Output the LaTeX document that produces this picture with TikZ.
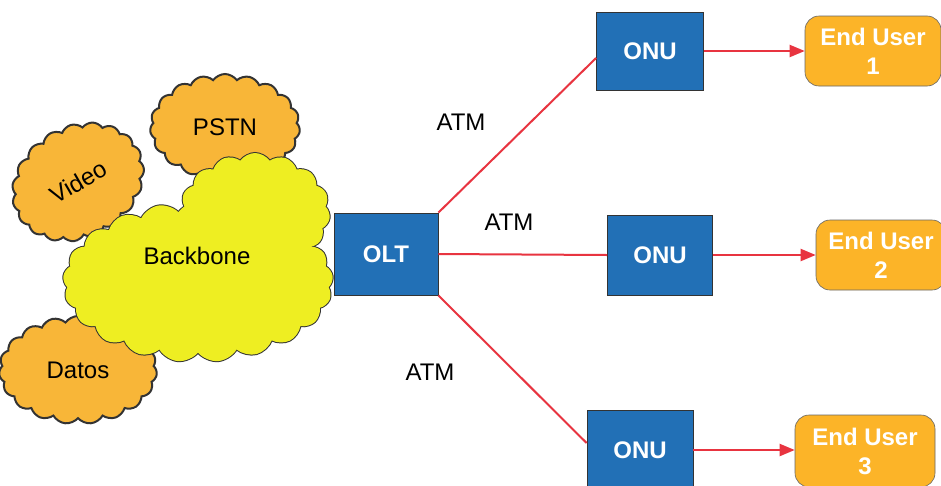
\documentclass[tikz,border=0pt]{standalone}
\usepackage{fontspec}
\setmainfont{Liberation Sans}
\usetikzlibrary{shapes.symbols,arrows.meta}
\definecolor{boxblue}{RGB}{34,112,182}
\definecolor{useror}{RGB}{252,180,40}
\definecolor{cloudor}{RGB}{248,182,56}
\definecolor{bbyellow}{RGB}{238,238,34}
\definecolor{linkred}{RGB}{232,52,64}
\tikzset{
  bigtxt/.style={font=\fontsize{24}{29}\selectfont},
  netbox/.style={draw=black!80,line width=0.8pt,fill=boxblue,text=white,font=\fontsize{24}{29}\selectfont\bfseries,inner sep=0pt},
  userbox/.style={draw=black!60,line width=0.6pt,fill=useror,text=white,rounded corners=14pt,align=center,font=\fontsize{24}{29}\selectfont\bfseries,inner sep=0pt},
  netcloud/.style={cloud,cloud puffs=19,cloud puff arc=110,draw=black!80,line width=2pt,bigtxt,inner sep=0pt},
  link/.style={draw=linkred,line width=2pt},
  arrowlink/.style={link,-{Triangle[length=15pt,width=12pt]}},
  lbl/.style={bigtxt}
}
\begin{document}
\begin{tikzpicture}[x=1pt,y=-1pt]
\fill[white] (0,0) rectangle (941,485);
\useasboundingbox (0,0) rectangle (941,485);
% clouds
\node[netcloud,fill=cloudor,minimum width=138pt,minimum height=112pt,rotate=30] (video) at (78,182) {Video};
\node[netcloud,fill=cloudor,minimum width=150pt,minimum height=106pt] (pstn) at (225,127) {PSTN};
\node[netcloud,fill=cloudor,minimum width=158pt,minimum height=108pt] (datos) at (78,370) {Datos};
% backbone: union of two clouds
\node[netcloud,fill=bbyellow,minimum width=270pt,minimum height=160pt,cloud puffs=21] (bbmain) at (198,282) {};
\node[netcloud,fill=bbyellow,minimum width=150pt,minimum height=118pt,cloud puffs=15] (bbtop) at (255,212) {};
\node[cloud,cloud puffs=21,cloud puff arc=110,fill=bbyellow,minimum width=270pt,minimum height=160pt,inner sep=0pt] (bbmainf) at (198,282) {};
\node[cloud,cloud puffs=15,cloud puff arc=110,fill=bbyellow,minimum width=150pt,minimum height=118pt,inner sep=0pt] (bbtopf) at (255,212) {};
\node[bigtxt] (backbonet) at (197,256) {Backbone};
% boxes
\node[netbox,minimum width=104pt,minimum height=82pt] (olt) at (386,254) {OLT};
\node[netbox,minimum width=107pt,minimum height=78pt] (onu1) at (650,51) {ONU};
\node[netbox,minimum width=105pt,minimum height=80pt] (onu2) at (660,255) {ONU};
\node[netbox,minimum width=106pt,minimum height=80pt] (onu3) at (640,450) {ONU};
\node[userbox,minimum width=136pt,minimum height=70pt] (eu1) at (873,51) {End User\\1};
\node[userbox,minimum width=130pt,minimum height=70pt] (eu2) at (881,255) {End User\\2};
\node[userbox,minimum width=140pt,minimum height=72pt] (eu3) at (865,451) {End User\\3};
% links
\draw[link] (olt.north east) -- (onu1.west |- 0,58);
\draw[link] (olt.east) -- (onu2.west);
\draw[link] (olt.south east) -- (onu3.west |- 0,443);
\draw[arrowlink] (onu1.east) -- (eu1.west);
\draw[arrowlink] (onu2.east) -- (eu2.west);
\draw[arrowlink] (onu3.east) -- (eu3.west |- onu3.east);
% labels
\node[lbl] (atm1) at (461,122) {ATM};
\node[lbl] (atm2) at (509,222) {ATM};
\node[lbl] (atm3) at (430,372) {ATM};
\end{tikzpicture}
\end{document}
